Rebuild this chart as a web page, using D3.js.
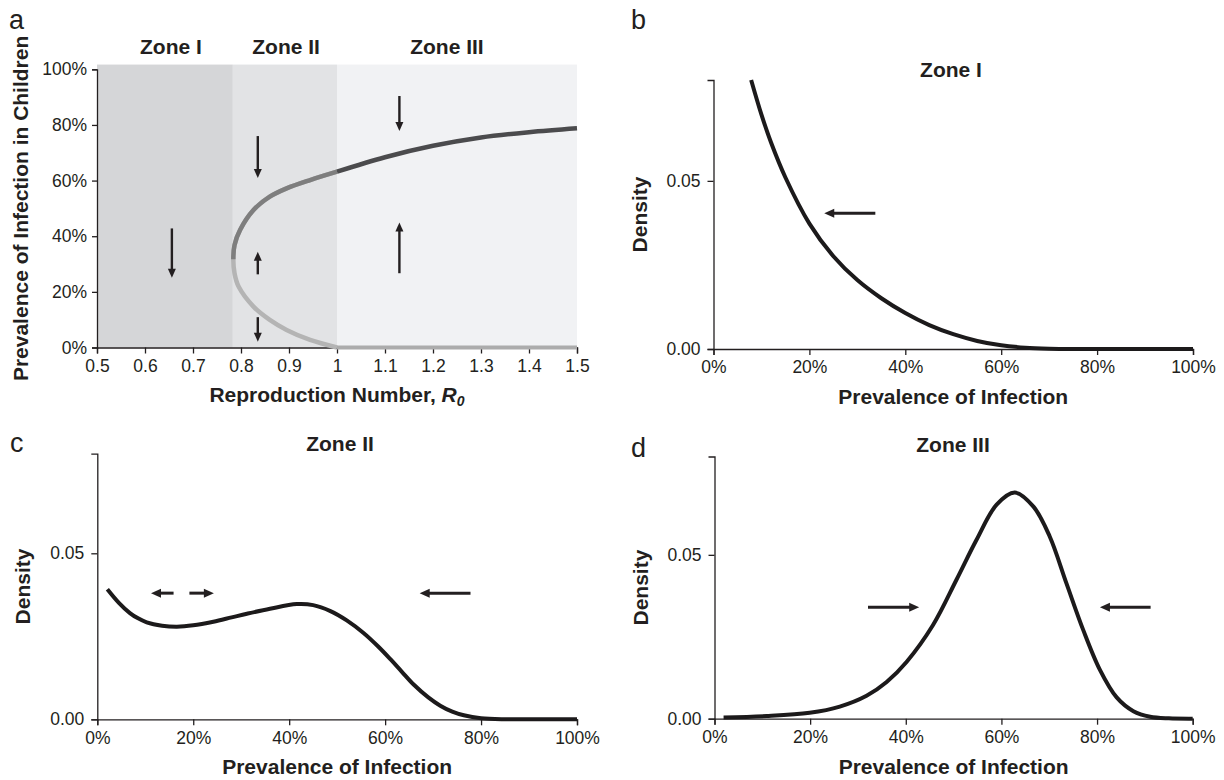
<!DOCTYPE html>
<html>
<head>
<meta charset="utf-8">
<script src="https://cdn.jsdelivr.net/npm/d3@7"></script>
<style>
  body { margin: 0; background: #fff; }
  svg { display: block; font-family: "Liberation Sans", Arial, Helvetica, sans-serif; }
</style>
</head>
<body>
<svg id="chart" width="1224" height="780"></svg>
<script>
// ---- data ----
// panel a: equilibrium prevalence vs reproduction number
const r0Ticks = [0.5, 0.6, 0.7, 0.8, 0.9, 1.0, 1.1, 1.2, 1.3, 1.4, 1.5];
const pctTicks = [0, 0.2, 0.4, 0.6, 0.8, 1.0];
const zoneNames = ["Zone I", "Zone II", "Zone III"];
const zoneStart = [0.5, 0.783, 1.0];
const zoneEnd = [0.783, 1.0, 1.5];
const zoneLabelR0 = [0.654, 0.894, 1.229];

// the fold inside zone II (lower unstable + upper branch), ordered by prevalence
const foldPrev = [0, 0.027, 0.063, 0.099, 0.147, 0.219, 0.267, 0.317, 0.368, 0.422, 0.494, 0.542, 0.572, 0.602, 0.632];
const foldR0   = [1.0, 0.944, 0.895, 0.860, 0.826, 0.795, 0.7865, 0.784, 0.7865, 0.798, 0.826, 0.860, 0.895, 0.944, 1.0];
// stable endemic branch in zone III
const upperR0   = [1.0, 1.1, 1.2, 1.3, 1.4, 1.5];
const upperPrev = [0.632, 0.684, 0.725, 0.755, 0.774, 0.788];
// disease-free branch
const zeroR0 = [1.0, 1.5];
const zeroPrev = [0, 0];

// arrows in panel a (R0, from prevalence, to prevalence)
const arrowAR0   = [0.656, 0.835, 0.835, 0.835, 1.13, 1.13];
const arrowAFrom = [0.428, 0.760, 0.263, 0.109, 0.904, 0.267];
const arrowATo   = [0.251, 0.609, 0.344, 0.021, 0.778, 0.449];

// panels b-d: stationary densities
const densTicks = [0, 0.05];
const bPrev = [0.0785, 0.10, 0.12, 0.15, 0.20, 0.25, 0.30, 0.35, 0.40, 0.45, 0.50, 0.55, 0.60, 0.65, 0.70, 0.75, 0.80, 0.90, 1.00];
const bDens = [0.080, 0.0697, 0.0614, 0.0510, 0.0373, 0.0276, 0.0205, 0.0151, 0.0107, 0.0071, 0.0044, 0.0024, 0.0011, 0.0004, 0.0001, 0, 0, 0, 0];

const cPrev = [0.021, 0.045, 0.068, 0.085, 0.103, 0.135, 0.166, 0.20, 0.242, 0.28, 0.312, 0.36, 0.416, 0.45, 0.486, 0.52, 0.555, 0.585, 0.611, 0.635, 0.66, 0.69, 0.715, 0.74, 0.764, 0.80, 0.85, 0.90, 1.0];
const cDens = [0.0392, 0.0351, 0.0320, 0.0304, 0.0292, 0.0282, 0.0279, 0.0283, 0.0294, 0.0307, 0.0318, 0.0333, 0.0347, 0.0344, 0.0326, 0.0298, 0.0260, 0.0220, 0.0181, 0.0143, 0.0104, 0.0066, 0.0041, 0.0023, 0.0012, 0.0003, 0, 0, 0];

const dPrev = [0.019, 0.109, 0.199, 0.262, 0.318, 0.36, 0.402, 0.457, 0.506, 0.548, 0.59, 0.628, 0.667, 0.701, 0.736, 0.771, 0.806, 0.841, 0.876, 0.911, 0.95, 1.0];
const dDens = [0.0004, 0.0008, 0.0018, 0.0037, 0.0070, 0.0112, 0.0174, 0.0286, 0.0424, 0.0546, 0.0653, 0.0690, 0.0647, 0.0556, 0.0413, 0.0271, 0.0149, 0.0065, 0.0023, 0.0006, 0.0001, 0];

// horizontal arrows (from prevalence, to prevalence) at a density height
const bArrowFrom = [0.3375], bArrowTo = [0.231], bArrowY = 0.0404;
const cArrowFrom = [0.159, 0.192, 0.778], cArrowTo = [0.112, 0.243, 0.672], cArrowY = 0.038;
const dArrowFrom = [0.321, 0.912], dArrowTo = [0.428, 0.806], dArrowY = 0.034;

// ---- drawing ----
const ink = "#231f20";
const labelSize = 21, tickSize = 17.5;
const svg = d3.select("#chart");

function arrow(g, x1, y1, x2, y2, w, headL, headW) {
    const dx = x2 - x1, dy = y2 - y1;
    const len = Math.hypot(dx, dy);
    const ux = dx / len, uy = dy / len;
    const bx = x2 - ux * headL, by = y2 - uy * headL;
    g.append("line")
        .attr("x1", x1).attr("y1", y1)
        .attr("x2", bx + ux * 1).attr("y2", by + uy * 1)
        .attr("stroke", ink).attr("stroke-width", w);
    g.append("path")
        .attr("d", `M${x2},${y2}L${bx - uy * headW / 2},${by + ux * headW / 2}L${bx + uy * headW / 2},${by - ux * headW / 2}Z`)
        .attr("fill", ink);
}

function styleAxis(g) {
    g.select(".domain").attr("stroke", ink).attr("stroke-width", 1.3);
    g.selectAll(".tick line").attr("stroke", ink).attr("stroke-width", 1.3);
    g.selectAll(".tick text").attr("fill", ink).attr("font-size", tickSize);
}

// panel a
const xA = d3.scaleLinear().domain([0.5, 1.5]).range([97, 577]);
const yA = d3.scaleLinear().domain([0, 1]).range([347.5, 69.3]);
const zoneFill = ["#d5d6d8", "#e2e3e5", "#f1f2f4"];

const pa = svg.append("g");
pa.selectAll("rect.zone")
    .data(zoneNames)
    .join("rect")
    .attr("class", "zone")
    .attr("x", (d, i) => xA(zoneStart[i]))
    .attr("width", (d, i) => xA(zoneEnd[i]) - xA(zoneStart[i]))
    .attr("y", yA(1.017))
    .attr("height", yA(0) - yA(1.017))
    .attr("fill", (d, i) => zoneFill[i]);

pa.selectAll("text.zlabel")
    .data(zoneNames)
    .join("text")
    .attr("class", "zlabel")
    .attr("x", (d, i) => xA(zoneLabelR0[i]))
    .attr("y", 54)
    .attr("text-anchor", "middle")
    .attr("font-size", labelSize)
    .attr("font-weight", "bold")
    .attr("fill", ink)
    .text(d => d);

pa.append("g")
    .attr("transform", `translate(0,${yA(0)})`)
    .call(d3.axisBottom(xA).tickValues(r0Ticks)
        .tickFormat(d => String(+d.toFixed(1)))
        .tickSizeOuter(0).tickSize(6).tickPadding(6))
    .call(styleAxis);
pa.append("g")
    .attr("transform", `translate(${xA(0.5)},0)`)
    .call(d3.axisLeft(yA).tickValues(pctTicks)
        .tickFormat(d3.format(".0%"))
        .tickSizeOuter(0).tickSize(5).tickPadding(5))
    .call(styleAxis);

// fold curve: light lower branch, medium upper branch (clipped above the turning point)
const fold = foldPrev.map((p, i) => ({r: foldR0[i], p: p}));
const vertex = d3.least(fold, d => d.r);
const smooth = d3.curveCatmullRom.alpha(0.5);
const foldLine = d3.line().x(d => xA(d.r)).y(d => yA(d.p)).curve(smooth);
svg.append("defs").append("clipPath").attr("id", "upperClip")
    .append("rect").attr("x", 0).attr("y", 0).attr("width", 1224).attr("height", yA(vertex.p));

pa.append("path").datum(fold).attr("d", foldLine)
    .attr("fill", "none").attr("stroke", "#b4b4b4").attr("stroke-width", 4.5);
pa.append("path").datum(fold).attr("d", foldLine)
    .attr("clip-path", "url(#upperClip)")
    .attr("fill", "none").attr("stroke", "#7e7e7e").attr("stroke-width", 4.5);

const rLine = d3.line().x(d => xA(d.r)).y(d => yA(d.p)).curve(smooth);
pa.append("path").datum(zeroR0.map((r, i) => ({r: r, p: zeroPrev[i]})))
    .attr("d", rLine).attr("fill", "none").attr("stroke", "#acacac").attr("stroke-width", 4);
pa.append("path").datum(upperR0.map((r, i) => ({r: r, p: upperPrev[i]})))
    .attr("d", rLine).attr("fill", "none").attr("stroke", "#4b4b4d").attr("stroke-width", 4.5);

arrowAR0.forEach((r, i) => {
    arrow(pa, xA(r), yA(arrowAFrom[i]), xA(r), yA(arrowATo[i]), 2.4, 9, 8);
});

pa.append("text")
    .attr("transform", `translate(28,${(yA(0) + yA(1)) / 2}) rotate(-90)`)
    .attr("text-anchor", "middle")
    .attr("font-size", labelSize).attr("font-weight", "bold").attr("fill", ink)
    .text("Prevalence of Infection in Children");

const xt = pa.append("text")
    .attr("x", (xA(0.5) + xA(1.5)) / 2).attr("y", 402)
    .attr("text-anchor", "middle")
    .attr("font-size", labelSize).attr("font-weight", "bold").attr("fill", ink);
xt.append("tspan").text("Reproduction Number, ");
xt.append("tspan").attr("font-style", "italic").text("R");
xt.append("tspan").attr("font-style", "italic").attr("font-size", 14).attr("dy", 4).text("0");

pa.append("text").attr("x", 9).attr("y", 29).attr("font-size", 27).attr("fill", ink).text("a");

// density panels
function densityPanel(o) {
    const x = d3.scaleLinear().domain([0, 1]).range([o.left, o.right]);
    const y = d3.scaleLinear().domain([0, 0.08]).range([o.bottom, o.top]);
    const g = svg.append("g");

    g.append("g")
        .attr("transform", `translate(0,${o.bottom})`)
        .call(d3.axisBottom(x).tickValues(pctTicks).tickFormat(d3.format(".0%"))
            .tickSizeOuter(0).tickSize(6).tickPadding(6))
        .call(styleAxis);
    g.append("g")
        .attr("transform", `translate(${o.left},0)`)
        .call(d3.axisLeft(y).tickValues(densTicks).tickFormat(d3.format(".2f"))
            .tickSizeOuter(0).tickSize(6).tickPadding(7))
        .call(styleAxis);

    const line = d3.line().x(d => x(d.p)).y(d => y(Math.max(0, d.v))).curve(smooth);
    g.append("path")
        .datum(o.prev.map((p, i) => ({p: p, v: o.dens[i]})))
        .attr("d", line)
        .attr("fill", "none").attr("stroke", "#1c1a1b").attr("stroke-width", 4);

    o.arrowFrom.forEach((f, i) => {
        arrow(g, x(f), y(o.arrowY), x(o.arrowTo[i]), y(o.arrowY), 3, 10, 9);
    });

    g.append("text")
        .attr("x", o.titleX).attr("y", o.titleY)
        .attr("text-anchor", "middle")
        .attr("font-size", labelSize).attr("font-weight", "bold").attr("fill", ink)
        .text(o.title);
    g.append("text")
        .attr("transform", `translate(${o.left - 67},${(o.top + o.bottom) / 2}) rotate(-90)`)
        .attr("text-anchor", "middle")
        .attr("font-size", labelSize).attr("font-weight", "bold").attr("fill", ink)
        .text("Density");
    g.append("text")
        .attr("x", (o.left + o.right) / 2).attr("y", o.bottom + 55)
        .attr("text-anchor", "middle")
        .attr("font-size", labelSize).attr("font-weight", "bold").attr("fill", ink)
        .text("Prevalence of Infection");
    g.append("text")
        .attr("x", o.letterX).attr("y", o.letterY)
        .attr("font-size", 27).attr("fill", ink).text(o.letter);
}

densityPanel({left: 713.5, right: 1193, top: 80, bottom: 349,
    prev: bPrev, dens: bDens, arrowFrom: bArrowFrom, arrowTo: bArrowTo, arrowY: bArrowY,
    title: "Zone I", titleX: 951, titleY: 77, letter: "b", letterX: 631, letterY: 29});
densityPanel({left: 97.3, right: 577, top: 453.7, bottom: 719.3,
    prev: cPrev, dens: cDens, arrowFrom: cArrowFrom, arrowTo: cArrowTo, arrowY: cArrowY,
    title: "Zone II", titleX: 340, titleY: 451, letter: "c", letterX: 10, letterY: 452});
densityPanel({left: 714.5, right: 1192.7, top: 456.5, bottom: 718.7,
    prev: dPrev, dens: dDens, arrowFrom: dArrowFrom, arrowTo: dArrowTo, arrowY: dArrowY,
    title: "Zone III", titleX: 953, titleY: 452, letter: "d", letterX: 631, letterY: 457});
</script>
</body>
</html>
